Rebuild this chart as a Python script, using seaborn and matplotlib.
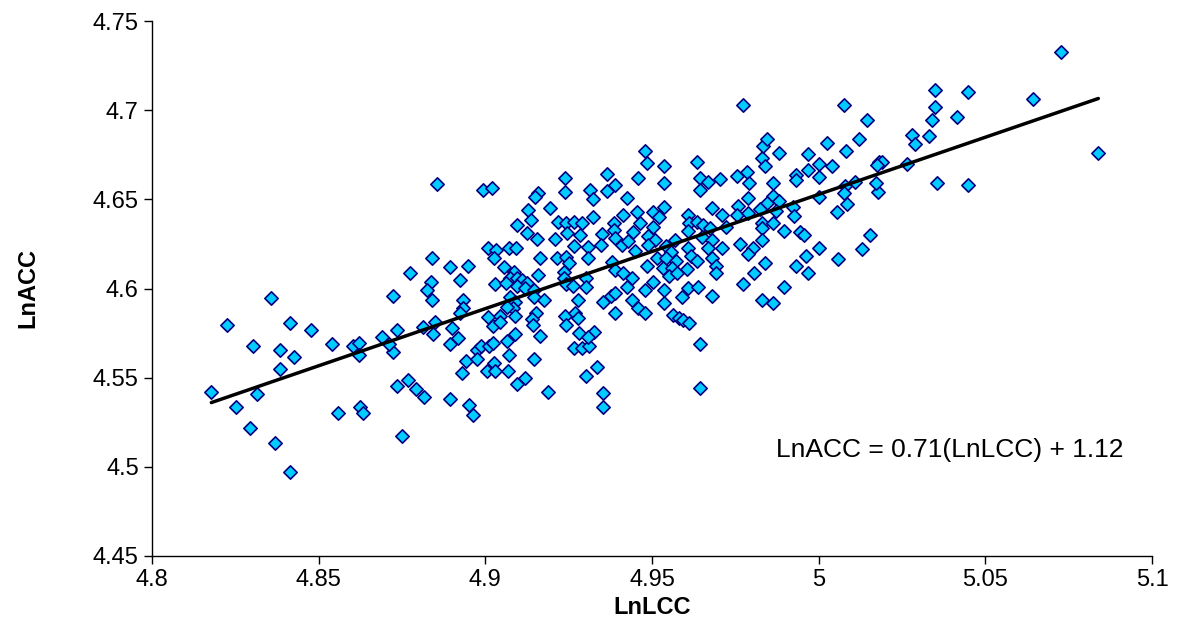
import numpy as np
import pandas as pd
import matplotlib
matplotlib.use("Agg")
import matplotlib.pyplot as plt
import seaborn as sns

lnlcc = [
    4.8304, 4.8384, 4.8425, 4.8384, 4.8178, 4.8316, 4.8253, 4.8293, 4.8368, 4.8413,
    4.8540, 4.8602, 4.8621, 4.8621, 4.8557, 4.8625, 4.8632, 4.8751, 4.8734, 4.8769,
    4.8791, 4.8723, 4.8712, 4.8690, 4.8774, 4.8724, 4.8357, 4.8225, 4.8413, 4.8477,
    4.8735, 4.8813, 4.8894, 4.8974, 4.8986, 4.9011, 4.9024, 4.9066, 4.8941, 4.8976,
    4.9026, 4.9072, 4.9147, 4.8929, 4.9004, 4.9029, 4.9067, 4.9094, 4.9119, 4.9187,
    4.9266, 4.9291, 4.9311, 4.9336, 4.9301, 4.9353, 4.9353, 4.8816, 4.8894, 4.8951,
    4.8964, 4.9645, 4.9645, 5.0179, 5.0155, 5.0129, 5.0727, 5.0350, 5.0447, 5.0642,
    5.0350, 5.0339, 5.0414, 5.0145, 5.0121, 5.0281, 5.0332, 5.0288, 5.0181, 5.0189,
    5.0176, 5.0265, 5.0172, 5.0355, 5.0447, 5.0839, 4.8856, 4.8994, 4.9021, 4.9239,
    4.9239, 4.9314, 4.9366, 4.9389, 4.9365, 4.9459, 4.9159, 4.9479, 4.9772, 5.0076,
    4.9486, 4.9537, 4.9537, 4.9634, 4.9645, 4.9669, 4.9704, 4.9644, 4.9754, 4.9784,
    4.9790, 4.9829, 4.9840, 4.9834, 4.9846, 4.9881, 4.9864, 4.9931, 4.9931, 4.9967,
    4.9967, 5.0001, 5.0001, 5.0024, 5.0041, 5.0082, 5.0079, 5.0109, 4.9149, 4.9324,
    4.9426, 4.9194, 4.9129, 4.9137, 4.9094, 4.9124, 4.9154, 4.9324, 4.9412, 4.9454,
    4.9219, 4.9241, 4.9266, 4.9291, 4.9244, 4.9284, 4.9209, 4.9266, 4.9307, 4.9349,
    4.9347, 4.9386, 4.9386, 4.9389, 4.9409, 4.9429, 4.9444, 4.9449, 4.9009, 4.9032,
    4.9026, 4.9072, 4.9092, 4.8839, 4.8894, 4.8947, 4.9056, 4.9164, 4.9214, 4.9242,
    4.9251, 4.9307, 4.9379, 4.9389, 4.9414, 4.8924, 4.8837, 4.8826, 4.8839, 4.9087,
    4.9074, 4.9094, 4.9109, 4.9126, 4.9159, 4.9029, 4.9062, 4.9096, 4.9119, 4.9147,
    4.9237, 4.9237, 4.9241, 4.9262, 4.9301, 4.9301, 4.9441, 4.9426, 4.9074, 4.9089,
    4.9147, 4.9177, 4.9279, 4.9352, 4.9377, 4.9389, 4.9439, 4.9459, 4.8934, 4.8934,
    4.8924, 4.9082, 4.9066, 4.9009, 4.9044, 4.9089, 4.9152, 4.9139, 4.9144, 4.9239,
    4.9269, 4.9279, 4.9242, 4.9389, 4.9024, 4.9044, 4.8849, 4.8844, 4.8899, 4.8918,
    4.9089, 4.9164, 4.9282, 4.9326, 4.9309, 4.9789, 4.9862, 4.9882, 4.9844, 5.0002,
    5.0076, 5.0086, 5.0054, 4.9759, 4.9679, 4.9709, 4.9754, 4.9789, 4.9824, 4.9872,
    4.9922, 4.9927, 4.9537, 4.9504, 4.9522, 4.9464, 4.9504, 4.9609, 4.9612, 4.9634,
    4.9652, 4.9674, 4.9609, 4.9722, 4.9829, 4.9864, 4.9829, 4.9897, 4.9944, 4.9956,
    4.9489, 4.9509, 4.9489, 4.9569, 4.9649, 4.9679, 4.9829, 4.9764, 4.9542, 4.9556,
    4.9609, 4.9669, 4.9709, 4.9804, 4.9787, 5.0002, 4.9961, 5.0059, 4.9514, 4.9542,
    4.9484, 4.9572, 4.9616, 4.9636, 4.9679, 4.9532, 4.9559, 4.9552, 4.9574, 4.9606,
    4.9692, 4.9692, 4.9839, 4.9806, 4.9932, 4.9967, 4.9502, 4.9479, 4.9537, 4.9609,
    4.9639, 4.9589, 4.9679, 4.9772, 4.9897, 4.9829, 4.9862, 4.9537, 4.9479, 4.9564,
    4.9582, 4.9594, 4.9612,
]
lnacc = [
    4.5679, 4.5655, 4.5614, 4.5549, 4.5421, 4.5410, 4.5336, 4.5216, 4.5132, 4.4971,
    4.5687, 4.5679, 4.5693, 4.5625, 4.5304, 4.5337, 4.5304, 4.5175, 4.5455, 4.5487,
    4.5435, 4.5646, 4.5689, 4.5728, 4.6085, 4.5958, 4.5945, 4.5797, 4.5807, 4.5766,
    4.5767, 4.5784, 4.5689, 4.5655, 4.5679, 4.5679, 4.5693, 4.5707, 4.5593, 4.5603,
    4.5584, 4.5627, 4.5603, 4.5528, 4.5539, 4.5537, 4.5537, 4.5466, 4.5496, 4.5421,
    4.5668, 4.5668, 4.5679, 4.5562, 4.5509, 4.5412, 4.5336, 4.5390, 4.5379, 4.5348,
    4.5291, 4.5687, 4.5440, 4.6543, 4.6298, 4.6222, 4.7328, 4.7113, 4.7102, 4.7061,
    4.7018, 4.6943, 4.6963, 4.6943, 4.6836, 4.6861, 4.6855, 4.6812, 4.6711, 4.6711,
    4.6693, 4.6698, 4.6590, 4.6590, 4.6580, 4.6762, 4.6586, 4.6550, 4.6562, 4.6621,
    4.6541, 4.6550, 4.6642, 4.6579, 4.6547, 4.6621, 4.6536, 4.6771, 4.7029, 4.7029,
    4.6705, 4.6685, 4.6590, 4.6708, 4.6618, 4.6599, 4.6612, 4.6550, 4.6633, 4.6655,
    4.6590, 4.6730, 4.6685, 4.6801, 4.6837, 4.6762, 4.6590, 4.6637, 4.6608, 4.6753,
    4.6665, 4.6698, 4.6624, 4.6814, 4.6687, 4.6771, 4.6575, 4.6599, 4.6513, 4.6500,
    4.6506, 4.6450, 4.6440, 4.6384, 4.6356, 4.6313, 4.6278, 4.6399, 4.6412, 4.6431,
    4.6375, 4.6366, 4.6375, 4.6366, 4.6313, 4.6300, 4.6278, 4.6238, 4.6234, 4.6304,
    4.6244, 4.6369, 4.6328, 4.6281, 4.6244, 4.6266, 4.6318, 4.6210, 4.6225, 4.6216,
    4.6169, 4.6225, 4.6225, 4.6173, 4.6119, 4.6126, 4.6119, 4.6169, 4.6169, 4.6178,
    4.6141, 4.6169, 4.6150, 4.6104, 4.6085, 4.6048, 4.6038, 4.5992, 4.5935, 4.6094,
    4.6057, 4.6057, 4.6048, 4.6033, 4.6076, 4.6024, 4.6029, 4.6016, 4.6001, 4.5992,
    4.6094, 4.6057, 4.6025, 4.6016, 4.6057, 4.6010, 4.6057, 4.6010, 4.5954, 4.5926,
    4.5954, 4.5935, 4.5935, 4.5923, 4.5958, 4.5973, 4.5935, 4.5889, 4.5935, 4.5889,
    4.5861, 4.5889, 4.5895, 4.5842, 4.5846, 4.5846, 4.5864, 4.5827, 4.5795, 4.5846,
    4.5864, 4.5833, 4.5795, 4.5861, 4.5790, 4.5814, 4.5814, 4.5745, 4.5777, 4.5722,
    4.5745, 4.5734, 4.5752, 4.5758, 4.5730, 4.6506, 4.6519, 4.6492, 4.6478, 4.6515,
    4.6534, 4.6474, 4.6431, 4.6464, 4.6450, 4.6412, 4.6412, 4.6422, 4.6444, 4.6436,
    4.6455, 4.6407, 4.6455, 4.6431, 4.6399, 4.6366, 4.6347, 4.6412, 4.6366, 4.6375,
    4.6356, 4.6338, 4.6322, 4.6343, 4.6366, 4.6369, 4.6338, 4.6322, 4.6318, 4.6300,
    4.6294, 4.6272, 4.6244, 4.6272, 4.6291, 4.6272, 4.6272, 4.6250, 4.6238, 4.6206,
    4.6225, 4.6225, 4.6225, 4.6225, 4.6192, 4.6225, 4.6182, 4.6164, 4.6169, 4.6169,
    4.6126, 4.6154, 4.6182, 4.6156, 4.6169, 4.6117, 4.6113, 4.6070, 4.6089, 4.6108,
    4.6126, 4.6085, 4.6141, 4.6089, 4.6126, 4.6089, 4.6038, 4.5992, 4.5992, 4.6001,
    4.6010, 4.5954, 4.5958, 4.6024, 4.6010, 4.5935, 4.5917, 4.5917, 4.5861, 4.5851,
    4.5833, 4.5823, 4.5805,
]

x_ticks = [4.8, 4.85, 4.9, 4.95, 5.0, 5.05, 5.1]
x_labels = ["4.8", "4.85", "4.9", "4.95", "5", "5.05", "5.1"]
y_ticks = [4.45, 4.5, 4.55, 4.6, 4.65, 4.7, 4.75]
y_labels = ["4.45", "4.5", "4.55", "4.6", "4.65", "4.7", "4.75"]
equation = "LnACC = 0.71(LnLCC) + 1.12"

sns.set_style("white")
plt.rcParams['font.family'] = ['Liberation Sans', 'DejaVu Sans']

n = min(len(lnlcc), len(lnacc))
df = pd.DataFrame({"LnLCC": lnlcc[:n], "LnACC": lnacc[:n]})

fig = plt.figure(figsize=(11.87, 6.26), dpi=100)
ax = fig.add_axes([152/1187, 1-556/626, 1000/1187, 535/626])
sns.scatterplot(data=df, x="LnLCC", y="LnACC", marker="D", s=46,
                color="#00CCFF", edgecolor="#000080", linewidth=1.2, ax=ax, zorder=3)
sns.regplot(data=df, x="LnLCC", y="LnACC", scatter=False, ci=None, truncate=True,
            line_kws={"color": "black", "linewidth": 2.5, "zorder": 4}, ax=ax)
ax.set_xlim(4.8, 5.1)
ax.set_ylim(4.45, 4.75)
ax.set_xticks(x_ticks)
ax.set_xticklabels(x_labels, fontsize=17)
ax.set_yticks(y_ticks)
ax.set_yticklabels(y_labels, fontsize=17)
for s in ["top", "right"]:
    ax.spines[s].set_visible(False)
for s in ["left", "bottom"]:
    ax.spines[s].set_color("black")
    ax.spines[s].set_linewidth(1.0)
ax.tick_params(axis="both", direction="out", length=6, width=1, color="black",
               bottom=True, left=True, labelcolor="black")
ax.set_xlabel("LnLCC", fontsize=17, fontweight="bold", color="black", va="center")
ax.set_ylabel("LnACC", fontsize=17, fontweight="bold", color="black", va="center")
ax.xaxis.set_label_coords(0.5, -0.097)
ax.yaxis.set_label_coords(-0.124, 0.5)
ax.text(4.9872, 4.5094, equation, fontsize=19, ha="left", va="center", color="black")
fig.savefig("out.png", dpi=100)
